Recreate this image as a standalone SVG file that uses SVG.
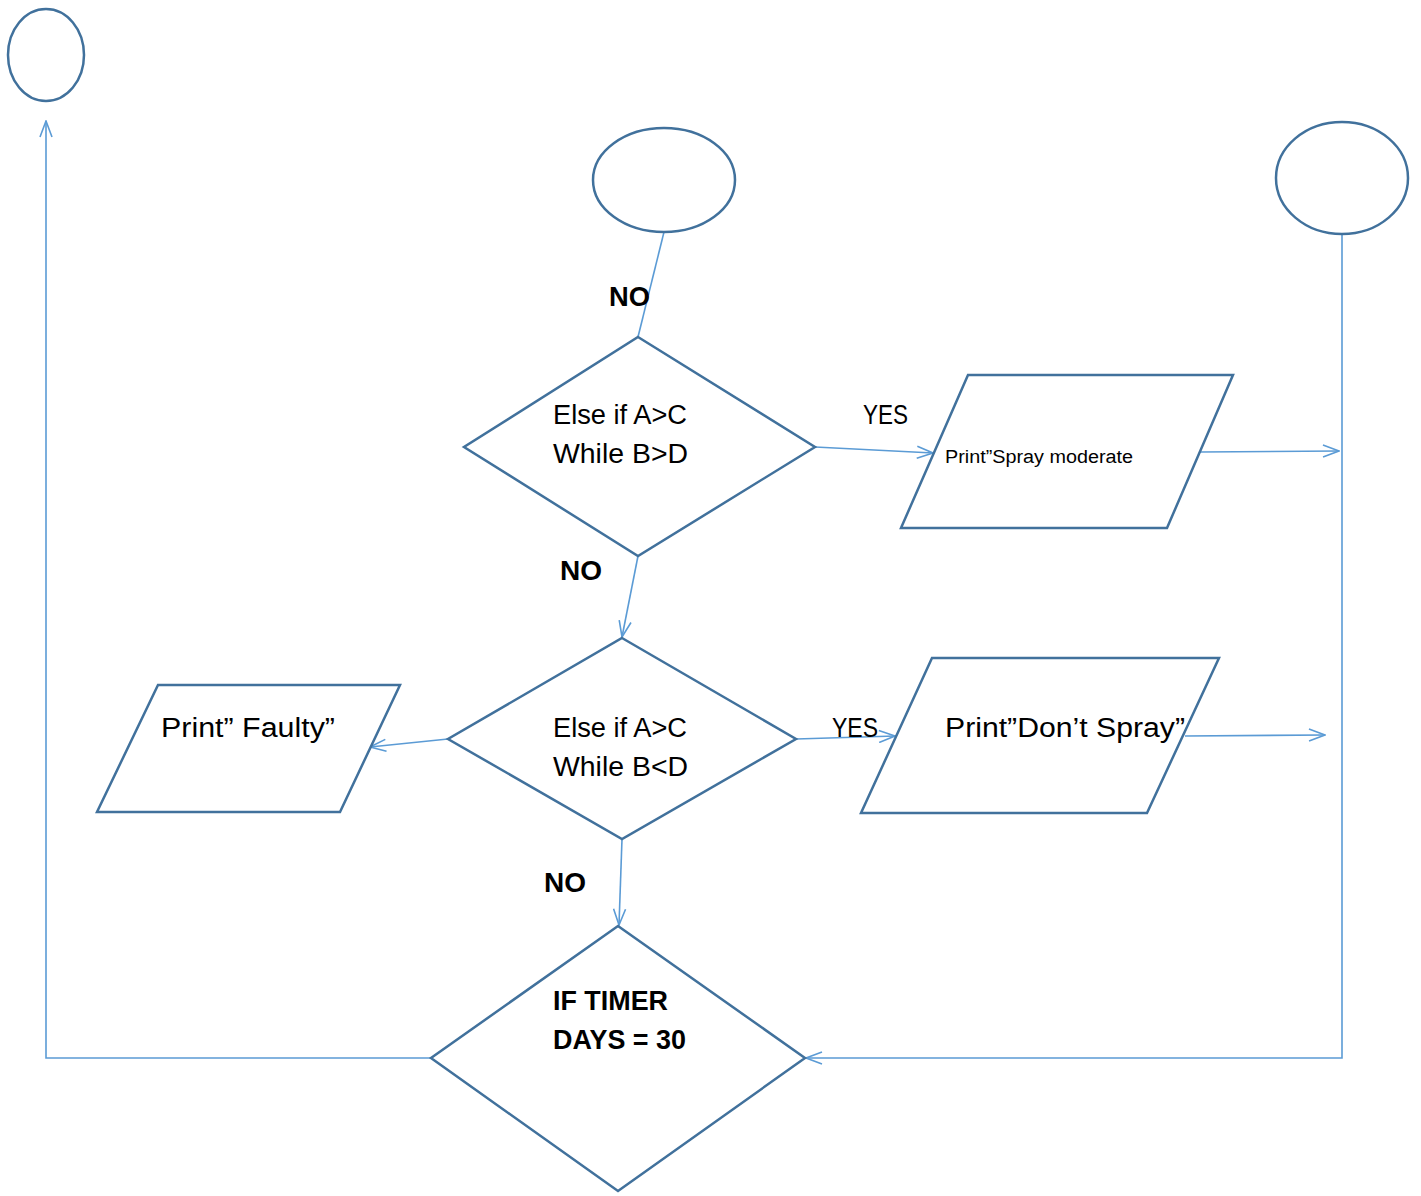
<svg xmlns="http://www.w3.org/2000/svg" width="1421" height="1196" viewBox="0 0 1421 1196">
<style>
.node{fill:#fff;stroke:#41719C;stroke-width:2.5}
.conn{fill:none;stroke:#5B9BD5;stroke-width:1.6}
.t{font-family:"Liberation Sans",Arial,sans-serif;fill:#000;font-size:27px}
.b{font-weight:bold}
</style>
<defs>
<marker id="arr" viewBox="0 0 18 14" refX="17" refY="7" markerWidth="18" markerHeight="14" markerUnits="userSpaceOnUse" orient="auto">
<path d="M1,1 L17,7 L1,13" fill="none" stroke="#5B9BD5" stroke-width="1.6"/>
</marker>
</defs>
<rect width="1421" height="1196" fill="#fff"/>
<g id="connectors">
<line class="conn" x1="664" y1="232" x2="638" y2="337"/>
<line class="conn" x1="815" y1="447" x2="933" y2="453" marker-end="url(#arr)"/>
<line class="conn" x1="1200" y1="452" x2="1339" y2="451" marker-end="url(#arr)"/>
<line class="conn" x1="638" y1="556" x2="622" y2="637" marker-end="url(#arr)"/>
<line class="conn" x1="448" y1="739" x2="370" y2="747" marker-end="url(#arr)"/>
<line class="conn" x1="796" y1="739" x2="895" y2="736" marker-end="url(#arr)"/>
<line class="conn" x1="1185" y1="736" x2="1325" y2="735" marker-end="url(#arr)"/>
<line class="conn" x1="622" y1="839" x2="619" y2="925" marker-end="url(#arr)"/>
<polyline class="conn" points="1342,234 1342,1058 806,1058" marker-end="url(#arr)"/>
<polyline class="conn" points="431,1058 46,1058 46,121" marker-end="url(#arr)"/>
</g>
<g id="end-left"><ellipse class="node" cx="46" cy="55" rx="38" ry="46"/></g>
<g id="start-top"><ellipse class="node" cx="664" cy="180" rx="71" ry="52"/></g>
<g id="end-right"><ellipse class="node" cx="1342" cy="178" rx="66" ry="56"/></g>
<g id="decision1">
<polygon class="node" points="638,337 815,447 638,556 464,447"/>
<text class="t" x="553" y="424" textLength="134" lengthAdjust="spacingAndGlyphs">Else if A&gt;C</text>
<text class="t" x="553" y="463" textLength="135" lengthAdjust="spacingAndGlyphs">While B&gt;D</text>
</g>
<g id="print-moderate">
<polygon class="node" points="968,375 1233,375 1167,528 901,528"/>
<text class="t" x="945" y="463" style="font-size:18px" textLength="188" lengthAdjust="spacingAndGlyphs">Print”Spray moderate</text>
</g>
<g id="decision2">
<polygon class="node" points="622,638 796,739 622,839 448,739"/>
<text class="t" x="553" y="737" textLength="134" lengthAdjust="spacingAndGlyphs">Else if A&gt;C</text>
<text class="t" x="553" y="776" textLength="135" lengthAdjust="spacingAndGlyphs">While B&lt;D</text>
</g>
<g id="print-faulty">
<polygon class="node" points="158,685 400,685 340,812 97,812"/>
<text class="t" x="161" y="737" textLength="174" lengthAdjust="spacingAndGlyphs">Print” Faulty”</text>
</g>
<g id="print-dont">
<polygon class="node" points="932,658 1219,658 1147,813 861,813"/>
<text class="t" x="945" y="737" textLength="240" lengthAdjust="spacingAndGlyphs">Print”Don’t Spray”</text>
</g>
<g id="decision3">
<polygon class="node" points="618,926 805,1058 618,1191 431,1058"/>
<text class="t b" x="553" y="1010" textLength="115" lengthAdjust="spacingAndGlyphs">IF TIMER</text>
<text class="t b" x="553" y="1049" textLength="133" lengthAdjust="spacingAndGlyphs">DAYS = 30</text>
</g>
<g id="labels">
<text class="t b" x="609" y="306" textLength="41" lengthAdjust="spacingAndGlyphs">NO</text>
<text class="t" x="863" y="424" textLength="45" lengthAdjust="spacingAndGlyphs">YES</text>
<text class="t b" x="560" y="580" textLength="42" lengthAdjust="spacingAndGlyphs">NO</text>
<text class="t" x="832" y="737" textLength="46" lengthAdjust="spacingAndGlyphs">YES</text>
<text class="t b" x="544" y="892" textLength="42" lengthAdjust="spacingAndGlyphs">NO</text>
</g>
</svg>
